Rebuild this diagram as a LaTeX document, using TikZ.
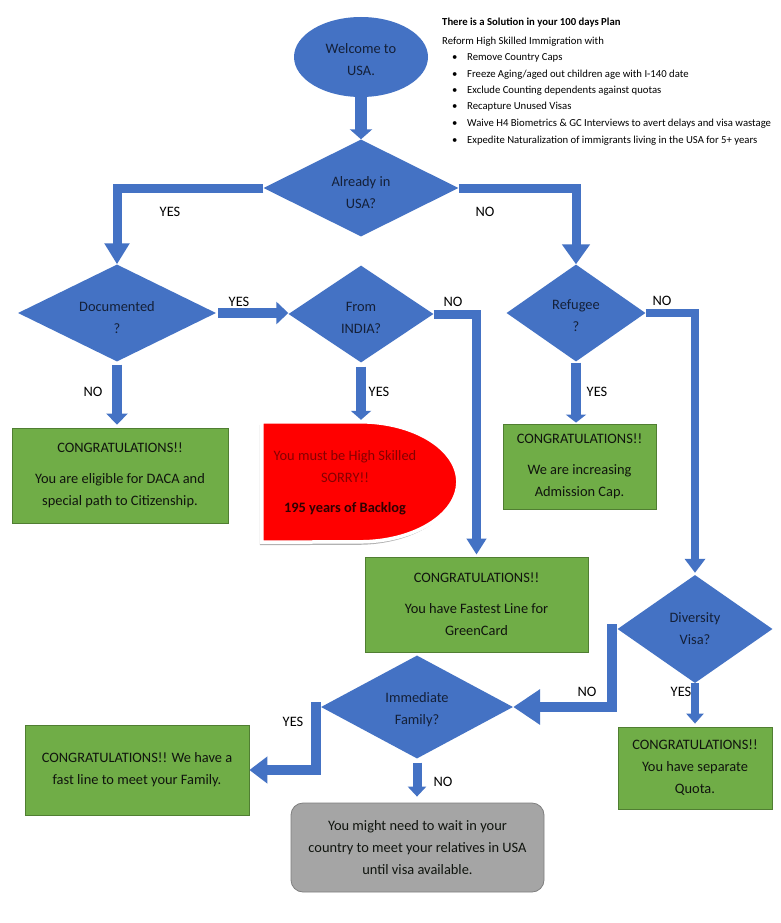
\documentclass[tikz,border=0pt]{standalone}
\usepackage{fontspec}
\setmainfont{Carlito}
\usetikzlibrary{shapes.geometric,arrows.meta}
\definecolor{fcblue}{HTML}{4472C4}
\definecolor{fcgreen}{HTML}{70AD47}
\definecolor{fcgreenline}{HTML}{507E32}
\definecolor{fcgrey}{HTML}{A5A5A5}
\definecolor{fcgreyline}{HTML}{7F7F7F}
\definecolor{navy}{HTML}{142038}
\definecolor{darkred}{HTML}{850000}
\definecolor{deepred}{HTML}{300000}
\definecolor{boxtext}{HTML}{10140E}
\begin{document}
\begin{tikzpicture}[x=1pt,y=-1pt,
  every node/.style={font=\fontsize{14.4}{22}\selectfont},
  dec/.style={diamond, fill=fcblue, text=navy, inner sep=0pt, shape aspect=2, align=center},
  gbox/.style={rectangle, fill=fcgreen, draw=fcgreenline, line width=0.8pt, text=boxtext, align=center, inner sep=0pt},
  lab/.style={text=black, inner sep=1pt},
  plan/.style={anchor=base west, inner sep=0pt, text=black, font=\fontsize{10.7}{13}\selectfont},
  barrow/.style n args={3}{draw=fcblue, line width=#1, line join=miter, -{Triangle[width=#2, length=#3]}},
]
\fill[white] (0,0) rectangle (781,923);
\useasboundingbox (0,0) rectangle (781,923);

% decision and start shapes
\node[ellipse, fill=fcblue, text=navy, minimum width=134pt, minimum height=80pt, inner sep=0pt, align=center] (welcome) at (361,57) {\mbox{}\\[-6pt]Welcome to\\USA.};
\node[dec, minimum width=195pt, minimum height=97pt] (already) at (361,188) {\mbox{}\\[-3pt]Already in\\USA?};
\node[dec, minimum width=198pt, minimum height=97pt] (doc) at (117,313) {\mbox{}\\[-3pt]Documented\\?};
\node[dec, minimum width=145pt, minimum height=97pt] (india) at (361,314) {\mbox{}\\[-4pt]From\\INDIA?};
\node[dec, minimum width=139pt, minimum height=97pt] (ref) at (576,313) {\mbox{}\\[-6pt]Refugee\\?};
\node[dec, minimum width=155pt, minimum height=108pt] (dv) at (695,629) {Diversity\\Visa?};
\node[dec, minimum width=192pt, minimum height=103pt] (imf) at (417,707) {\mbox{}\\[-6pt]Immediate\\Family?};

% outcome boxes
\node[gbox, minimum width=216pt, minimum height=95pt] (daca) at (120,475.5) {CONGRATULATIONS!!\\[9pt]You are eligible for DACA and\\special path to Citizenship.};
\node[gbox, minimum width=153pt, minimum height=85pt] (refbox) at (579.5,466.5) {CONGRATULATIONS!!\\[9pt]We are increasing\\Admission Cap.};
\node[gbox, minimum width=223pt, minimum height=95pt] (fast) at (476.5,604.5) {CONGRATULATIONS!!\\[9pt]You have Fastest Line for\\GreenCard};
\node[gbox, minimum width=154pt, minimum height=82pt] (quota) at (695,768) {CONGRATULATIONS!!\\You have separate\\Quota.};
\node[gbox, minimum width=224pt, minimum height=90pt] (fam) at (137,770) {CONGRATULATIONS!! We have a\\fast line to meet your Family.};
\node[rectangle, rounded corners=12pt, fill=fcgrey, draw=fcgreyline, line width=0.8pt, text=boxtext, align=center, inner sep=0pt, minimum width=253pt, minimum height=89pt] (grey) at (417.5,847.5) {You might need to wait in your\\country to meet your relatives in USA\\until visa available.};

% red delay shape
\node[minimum width=196pt, minimum height=120pt, inner sep=0pt] (red) at (360,482) {};
\path[fill=black, opacity=0.3, transform canvas={xshift=-2pt,yshift=-3pt}] (red.north west) -- ++(98,0) arc[start angle=90, end angle=-90, x radius=98pt, y radius=60pt] -- (red.south west) -- cycle;
\path[fill=red, draw=white, line width=3.5pt] (red.north west) -- ++(98,0) arc[start angle=90, end angle=-90, x radius=98pt, y radius=60pt] -- (red.south west) -- cycle;
\node[align=center, inner sep=0pt] (redtext) at (345,483) {\textcolor{darkred}{You must be High Skilled}\\\textcolor{darkred}{SORRY!!}\\[8pt]\textcolor{deepred}{\bfseries 195 years of Backlog}};

% connectors
\draw[barrow={12pt}{22pt}{10pt}] (welcome.south) -- (already.north);
\draw[barrow={9pt}{24pt}{21pt}] (already.west) -| (doc.north);
\draw[barrow={9pt}{27pt}{20pt}] (already.east) -| (ref.north);
\draw[barrow={10pt}{22pt}{12pt}, shorten <=2pt] (doc.east) -- (doc.east -| india.west);
\draw[barrow={10pt}{21pt}{11pt}, shorten <=3pt, shorten >=3pt] (doc.south) -- (doc.south |- daca.north);
\draw[barrow={10pt}{20pt}{9pt}, shorten <=4pt, shorten >=2pt] (india.south) -- (india.south |- red.north);
\draw[barrow={9pt}{19pt}{16pt}, shorten >=2pt] (india.east) -| (fast.north);
\draw[barrow={10pt}{20pt}{8pt}, shorten <=1pt, shorten >=1pt] (ref.south) -- (ref.south |- refbox.north);
\draw[barrow={8pt}{20pt}{14pt}, shorten >=2pt] (ref.east) -| (dv.north);
\draw[barrow={10pt}{34pt}{27pt}] (dv.west) -- ++(-5,0) |- (imf.east);
\draw[barrow={8pt}{17pt}{10pt}, shorten >=3pt] (dv.south) -- (quota.north);
\draw[barrow={10pt}{26pt}{18pt}] (imf.west) -- ++(-5,0) |- (fam.east);
\draw[barrow={9pt}{18pt}{10pt}, shorten <=4pt, shorten >=6pt] (imf.south) -- (imf.south |- grey.north);

% labels
\node[lab] (yes1) at (170,212) {YES};
\node[lab] (no1) at (485,212) {NO};
\node[lab] (yes2) at (239,302) {YES};
\node[lab] (no2) at (453,302) {NO};
\node[lab] (no3) at (93,392) {NO};
\node[lab] (yes3) at (379,392) {YES};
\node[lab] (no4) at (662,301) {NO};
\node[lab] (yes4) at (597,392) {YES};
\node[lab] (no5) at (587,692) {NO};
\node[lab] (yes5) at (681,692) {YES};
\node[lab] (yes6) at (293,722) {YES};
\node[lab] (no6) at (443,782) {NO};

% plan text
\node[plan, font=\bfseries\fontsize{10.7}{13}\selectfont] (p0) at (442,26) {There is a Solution in your 100 days Plan};
\node[plan] (p1) at (442,44.5) {Reform High Skilled Immigration with};
\node[plan] (p2) at (452,61) {\makebox[15pt][l]{\textbullet}Remove Country Caps};
\node[plan] (p3) at (452,77.5) {\makebox[15pt][l]{\textbullet}Freeze Aging/aged out children age with I-140 date};
\node[plan] (p4) at (452,94) {\makebox[15pt][l]{\textbullet}Exclude Counting dependents against quotas};
\node[plan] (p5) at (452,110) {\makebox[15pt][l]{\textbullet}Recapture Unused Visas};
\node[plan] (p6) at (452,126.5) {\makebox[15pt][l]{\textbullet}Waive H4 Biometrics \& GC Interviews to avert delays and visa wastage};
\node[plan] (p7) at (452,143.5) {\makebox[15pt][l]{\textbullet}Expedite Naturalization of immigrants living in the USA for 5+ years};
\end{tikzpicture}
\end{document}
